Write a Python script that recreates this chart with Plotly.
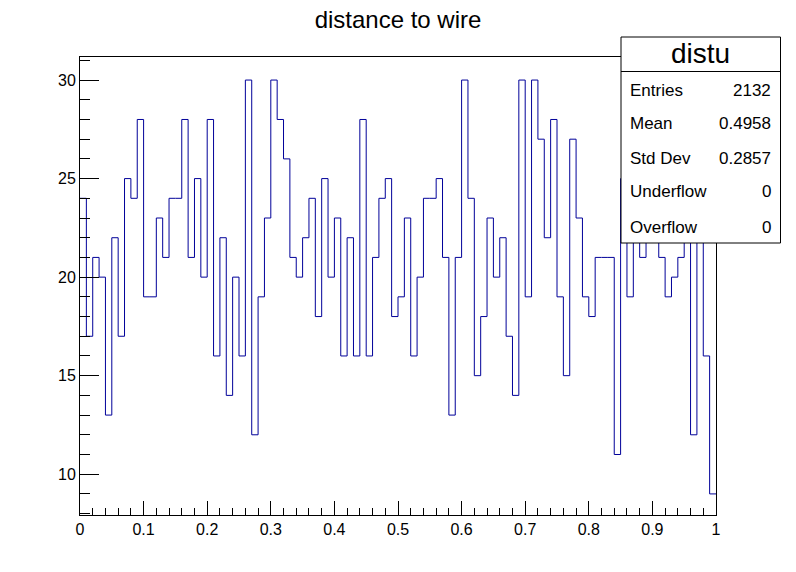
import numpy as np
import plotly.graph_objects as go

# Histogram "distu": 100 bins over [0, 1]
bin_low = 0.0
bin_high = 1.0
counts = [
    24, 17, 21, 20, 13, 22, 17, 25, 24, 28,
    19, 19, 23, 21, 24, 24, 28, 21, 25, 20,
    28, 16, 22, 14, 20, 16, 30, 12, 19, 23,
    30, 28, 26, 21, 20, 22, 24, 18, 25, 20,
    23, 16, 22, 16, 28, 16, 21, 24, 25, 18,
    19, 23, 16, 20, 24, 24, 25, 21, 13, 21,
    30, 24, 15, 18, 23, 20, 22, 17, 14, 30,
    19, 30, 27, 22, 28, 19, 15, 27, 23, 19,
    18, 21, 21, 21, 11, 25, 19, 28, 21, 24,
    27, 21, 19, 20, 21, 26, 12, 26, 16, 9,
]
stat_labels = ["Entries", "Mean", "Std Dev", "Underflow", "Overflow"]
stat_values = ["2132", "0.4958", "0.2857", "0", "0"]
hist_name = "distu"
title_text = "distance to wire"

edges = np.linspace(bin_low, bin_high, len(counts) + 1)
ys = list(counts) + [counts[-1]]

FONT = "Liberation Sans, Arial, Helvetica, sans-serif"

fig = go.Figure()
fig.add_trace(go.Scatter(
    x=edges, y=ys, mode="lines", line=dict(color="#000099", width=1, shape="hv"),
    hoverinfo="skip", showlegend=False,
))

W, H = 796, 572
L, R, T, B = 80, 80, 57, 57
pw, ph = W - L - R, H - T - B


def px(x):
    return (x - L) / pw


def py(y):
    return (H - B - y) / ph


fig.update_layout(
    width=W, height=H,
    margin=dict(l=L, r=R, t=T, b=B),
    paper_bgcolor="white", plot_bgcolor="white",
    font=dict(family=FONT, color="black", size=16),
    title=dict(text=title_text, x=0.5, xanchor="center", y=1 - 20 / H, yanchor="middle",
               font=dict(family=FONT, size=24, color="black")),
    showlegend=False,
)
fig.update_xaxes(
    range=[bin_low, bin_high], showgrid=False, zeroline=False,
    showline=True, linecolor="black", linewidth=1, mirror=True,
    ticks="inside", ticklen=14, tickcolor="black", tickwidth=1,
    tick0=0, dtick=0.1,
    minor=dict(ticks="inside", ticklen=7, tick0=0, dtick=0.02, tickcolor="black", showgrid=False),
    tickfont=dict(family=FONT, size=16, color="black"),
)
fig.update_yaxes(
    range=[7.93, 31.17], showgrid=False, zeroline=False,
    showline=True, linecolor="black", linewidth=1, mirror=True,
    ticks="inside", ticklen=19, tickcolor="black", tickwidth=1,
    tick0=0, dtick=5,
    minor=dict(ticks="inside", ticklen=10, dtick=1, tickcolor="black", showgrid=False),
    tickfont=dict(family=FONT, size=16, color="black"),
)

# Stats box
bx0, bx1, by_top, by_sep, by_bot = 621, 780.5, 37, 71.5, 243
fig.add_shape(type="rect", xref="paper", yref="paper",
              x0=px(bx0), x1=px(bx1), y0=py(by_bot), y1=py(by_top),
              line=dict(color="black", width=1), fillcolor="white", layer="above")
fig.add_shape(type="line", xref="paper", yref="paper",
              x0=px(bx0), x1=px(bx1), y0=py(by_sep), y1=py(by_sep),
              line=dict(color="black", width=1), layer="above")
fig.add_annotation(xref="paper", yref="paper", x=px((bx0 + bx1) / 2), y=py(54),
                   text=hist_name, showarrow=False, xanchor="center", yanchor="middle",
                   font=dict(family=FONT, size=28, color="black"))
row_y = [90, 124, 158, 192, 227]
for lab, val, yy in zip(stat_labels, stat_values, row_y):
    fig.add_annotation(xref="paper", yref="paper", x=px(628), y=py(yy), text=lab,
                       showarrow=False, xanchor="left", yanchor="middle",
                       font=dict(family=FONT, size=17, color="black"))
    fig.add_annotation(xref="paper", yref="paper", x=px(773), y=py(yy), text=val,
                       showarrow=False, xanchor="right", yanchor="middle",
                       font=dict(family=FONT, size=17, color="black"))

fig.write_html("out.html")
